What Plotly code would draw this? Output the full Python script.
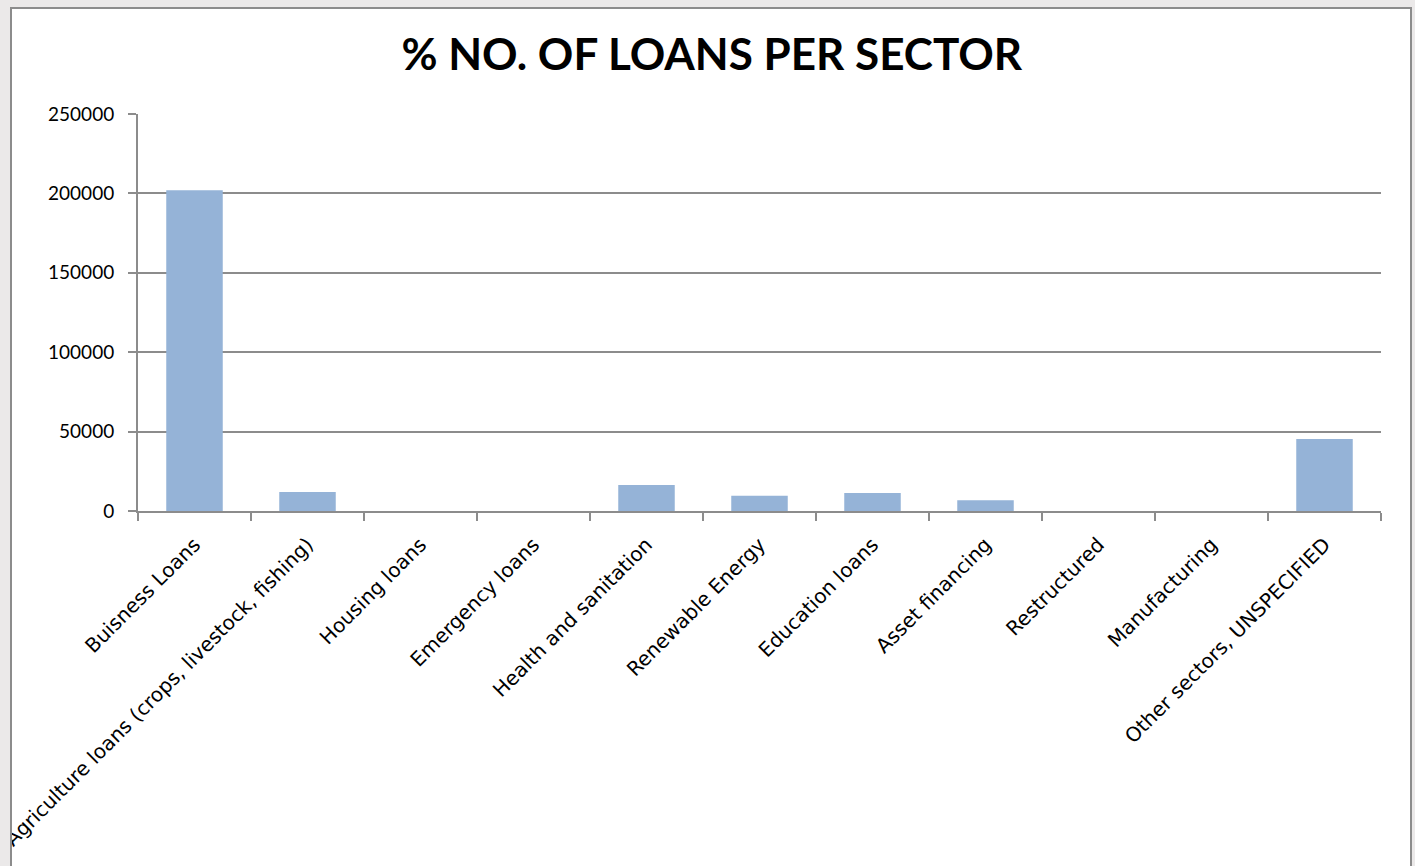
import plotly.graph_objects as go

# Sector categories and number of loans in each
sectors = [
    "Buisness Loans",
    "Agriculture loans (crops, livestock, fishing)",
    "Housing loans",
    "Emergency loans",
    "Health and sanitation",
    "Renewable Energy",
    "Education loans",
    "Asset financing",
    "Restructured",
    "Manufacturing",
    "Other sectors, UNSPECIFIED",
]
loan_counts = [202000, 12000, 0, 0, 16400, 9600, 11300, 6700, 0, 0, 45300]

y_ticks = [0, 50000, 100000, 150000, 200000, 250000]

W, H = 1415, 866
PLOT_L, PLOT_R, PLOT_T, PLOT_B = 138, 1381, 114, 511
GRAY = "#8C8C8C"
FONT = "Lato, 'Open Sans', sans-serif"
LABEL_FONT = "'DejaVu Sans', sans-serif"


def px_x(px):
    return (px - PLOT_L) / (PLOT_R - PLOT_L)


def px_y(py):
    return (PLOT_B - py) / (PLOT_B - PLOT_T)


fig = go.Figure(
    go.Bar(
        x=sectors,
        y=loan_counts,
        width=0.5,
        marker=dict(color="#95B3D7", line=dict(width=0)),
    )
)

fig.update_layout(
    width=W,
    height=H,
    margin=dict(l=PLOT_L, r=W - PLOT_R, t=PLOT_T, b=H - PLOT_B, autoexpand=False),
    paper_bgcolor="#EBE9E9",
    plot_bgcolor="rgba(0,0,0,0)",
    showlegend=False,
    title=dict(
        text="<b>% NO. OF LOANS PER SECTOR</b>",
        x=0.503,
        xanchor="center",
        y=1 - 55 / H,
        yanchor="middle",
        font=dict(family=FONT, size=44, color="black"),
    ),
    font=dict(family=FONT, color="black"),
    shapes=[
        # white chart area
        dict(type="rect", xref="paper", yref="paper",
             x0=px_x(11), x1=px_x(1411), y0=px_y(900), y1=px_y(8),
             fillcolor="white", line=dict(width=0), layer="below"),
        # gray strip that trims labels running past the frame
        dict(type="rect", xref="paper", yref="paper",
             x0=px_x(-5), x1=px_x(11), y0=px_y(900), y1=px_y(-5),
             fillcolor="#EBE9E9", line=dict(width=0), layer="above"),
        # chart frame
        dict(type="rect", xref="paper", yref="paper",
             x0=px_x(11), x1=px_x(1411), y0=px_y(900), y1=px_y(8),
             fillcolor="rgba(0,0,0,0)", line=dict(color=GRAY, width=2), layer="above"),
    ],
)

fig.update_xaxes(
    type="category",
    tickson="boundaries",
    ticks="outside",
    ticklen=8,
    tickwidth=2,
    tickcolor=GRAY,
    showline=True,
    linecolor=GRAY,
    linewidth=2,
    showgrid=False,
    tickangle=-45,
    ticklabelstandoff=12,
    tickfont=dict(family=LABEL_FONT, size=20, color="black"),
    automargin=False,
)

fig.update_yaxes(
    range=[0, 250000],
    tickvals=y_ticks,
    ticktext=[str(v) for v in y_ticks],
    ticks="outside",
    ticklen=8,
    tickwidth=2,
    tickcolor=GRAY,
    showline=True,
    linecolor=GRAY,
    linewidth=2,
    showgrid=True,
    gridcolor=GRAY,
    gridwidth=2,
    zeroline=False,
    ticklabelstandoff=10,
    tickfont=dict(family=FONT, size=19, color="black"),
    automargin=False,
)

fig.write_html("out.html")
